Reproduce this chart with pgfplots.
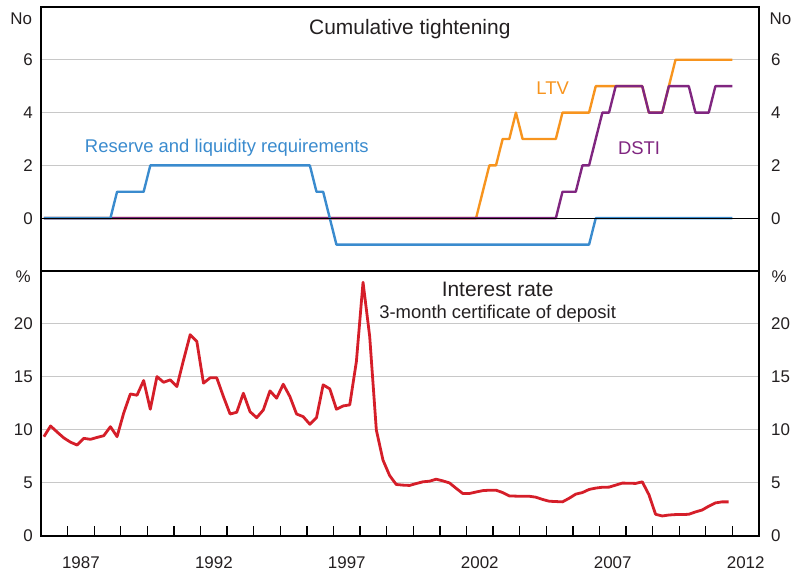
\documentclass[border=0pt]{standalone}
\usepackage{pgfplots}
\pgfplotsset{compat=1.18}
\usepackage{fontspec}
\setmainfont{Liberation Sans}
\definecolor{cblue}{RGB}{58,139,206}
\definecolor{corange}{RGB}{247,148,30}
\definecolor{cpurple}{RGB}{128,38,128}
\definecolor{cred}{RGB}{213,30,41}
\definecolor{cgrid}{RGB}{200,200,200}
\definecolor{ctext}{RGB}{35,31,32}

\pgfplotstableread{
x y
1986.11 9.37
1986.36 10.38
1986.61 9.8
1986.86 9.25
1987.11 8.85
1987.36 8.58
1987.61 9.21
1987.86 9.12
1988.11 9.3
1988.36 9.46
1988.61 10.31
1988.86 9.37
1989.11 11.6
1989.36 13.4
1989.61 13.28
1989.86 14.67
1990.11 11.96
1990.36 15.04
1990.61 14.5
1990.86 14.73
1991.11 14.1
1991.36 16.6
1991.61 18.99
1991.86 18.35
1992.11 14.42
1992.36 14.92
1992.61 14.92
1992.86 13.15
1993.11 11.51
1993.36 11.67
1993.61 13.47
1993.86 11.73
1994.11 11.16
1994.36 11.89
1994.61 13.69
1994.86 13.0
1995.11 14.32
1995.36 13.15
1995.61 11.51
1995.86 11.26
1996.11 10.54
1996.36 11.16
1996.61 14.26
1996.86 13.88
1997.11 11.96
1997.36 12.27
1997.61 12.37
1997.86 16.46
1998.11 23.94
1998.36 18.83
1998.61 10.0
1998.86 7.16
1999.11 5.7
1999.36 4.86
1999.61 4.8
1999.86 4.77
2000.11 4.95
2000.36 5.11
2000.61 5.17
2000.86 5.36
2001.11 5.2
2001.36 5.01
2001.61 4.5
2001.86 4.01
2002.11 4.01
2002.36 4.15
2002.61 4.28
2002.86 4.32
2003.11 4.32
2003.36 4.1
2003.61 3.78
2003.86 3.76
2004.11 3.75
2004.36 3.75
2004.61 3.66
2004.86 3.45
2005.11 3.28
2005.36 3.25
2005.61 3.22
2005.86 3.56
2006.11 3.95
2006.36 4.1
2006.61 4.39
2006.86 4.52
2007.11 4.6
2007.36 4.61
2007.61 4.8
2007.86 4.99
2008.11 4.98
2008.36 4.96
2008.61 5.11
2008.86 3.9
2009.11 2.05
2009.36 1.89
2009.61 1.98
2009.86 2.02
2010.11 2.02
2010.36 2.05
2010.61 2.27
2010.86 2.45
2011.11 2.81
2011.36 3.12
2011.61 3.22
2011.86 3.22
}\ratetable

\pgfplotstableread{
x y
1986.11 0
1988.61 0
1988.86 1
1989.86 1
1990.11 2
1996.11 2
1996.36 1
1996.61 1
1997.11 -1
2006.61 -1
2006.86 0
2012.0 0
}\reservetable

\pgfplotstableread{
x y
1986.11 0
2002.36 0
2002.86 2
2003.11 2
2003.36 3
2003.61 3
2003.86 4
2004.11 3
2005.36 3
2005.61 4
2006.61 4
2006.86 5
2008.61 5
2008.86 4
2009.36 4
2009.86 6
2012.0 6
}\ltvtable

\pgfplotstableread{
x y
1986.11 0
2005.36 0
2005.61 1
2006.11 1
2006.36 2
2006.61 2
2007.11 4
2007.36 4
2007.61 5
2008.61 5
2008.86 4
2009.36 4
2009.61 5
2010.36 5
2010.61 4
2011.11 4
2011.36 5
2012.0 5
}\dstitable

\newcommand{\tickfont}{\fontsize{17}{20}\selectfont}
\newcommand{\labfont}{\fontsize{18.5}{22}\selectfont}
\newcommand{\titfont}{\fontsize{21}{25}\selectfont}

\pgfplotsset{
  base/.style={
    scale only axis, width=718bp, xmin=1986, xmax=2013,
    anchor=south west,
    axis line style={black, line width=1.3bp},
    /pgf/number format/assume math mode=true,
    tick label style={font=\tickfont, text=ctext},
    ytick style={draw=none},
    clip=false,
  },
  leftlab/.style={yticklabel style={xshift=-4.7bp}, ymajorgrids, major grid style={cgrid, line width=1bp}},
  rightlab/.style={yticklabel pos=right, yticklabel style={xshift=8.7bp}, axis line style={draw=none}, xtick=\empty},
}

\begin{document}
\begin{tikzpicture}
\path[use as bounding box] (0,0) rectangle (795bp,572bp);

% ---------- top panel ----------
\begin{axis}[base, leftlab, at={(41bp,301bp)}, height=264bp,
  ymin=-2, ymax=8, ytick={0,2,4,6}, xtick=\empty]
  \addplot[corange, line width=2.4bp, line join=round] table {\ltvtable};
  \addplot[cpurple, line width=2.4bp, line join=round] table {\dstitable};
  \addplot[cblue, line width=2.4bp, line join=round] table {\reservetable};
  \addplot[black, line width=1.2bp] coordinates {(1986,0) (2013,0)};
  \node[anchor=base, font=\titfont, text=ctext] at (axis cs:1999.87,6.97) {Cumulative tightening};
  \node[anchor=base, font=\labfont, text=cblue] at (axis cs:1992.99,2.47) {Reserve and liquidity requirements};
  \node[anchor=base, font=\labfont, text=corange] at (axis cs:2005.24,4.69) {LTV};
  \node[anchor=base, font=\labfont, text=cpurple] at (axis cs:2008.49,2.43) {DSTI};
  \node[anchor=base east, font=\tickfont, text=ctext, xshift=-5.5bp] at (axis cs:1986,7.35) {No};
  \node[anchor=base west, font=\tickfont, text=ctext, xshift=7bp] at (axis cs:2013,7.35) {No};
\end{axis}
\begin{axis}[base, rightlab, at={(41bp,301bp)}, height=264bp,
  ymin=-2, ymax=8, ytick={0,2,4,6}]
\end{axis}

% ---------- bottom panel ----------
\begin{axis}[base, leftlab, at={(41bp,36bp)}, height=265bp,
  ymin=0, ymax=25, ytick={0,5,10,15,20},
  xtick={1987,1988,...,2012}, xticklabels={}, xtick pos=bottom,
  xtick style={black, line width=1.3bp}, tick align=inside, major tick length=10bp,
  extra x ticks={1987.5,1992.5,1997.5,2002.5,2007.5,2012.5},
  extra x tick labels={1987,1992,1997,2002,2007,2012},
  extra x tick style={major tick length=0pt, xticklabel style={yshift=-17bp}}]
  \addplot[cred, line width=2.8bp, line join=round] table {\ratetable};
  \node[anchor=base, font=\titfont, text=ctext] at (axis cs:2003.17,22.61) {Interest rate};
  \node[anchor=base, font=\labfont, text=ctext] at (axis cs:2003.17,20.53) {3-month certificate of deposit};
  \node[anchor=base east, font=\tickfont, text=ctext, xshift=-6.7bp] at (axis cs:1986,23.88) {\%};
  \node[anchor=base west, font=\tickfont, text=ctext, xshift=9bp] at (axis cs:2013,23.88) {\%};
\end{axis}
\begin{axis}[base, rightlab, at={(41bp,36bp)}, height=265bp,
  ymin=0, ymax=25, ytick={0,5,10,15,20}]
\end{axis}
\end{tikzpicture}
\end{document}
